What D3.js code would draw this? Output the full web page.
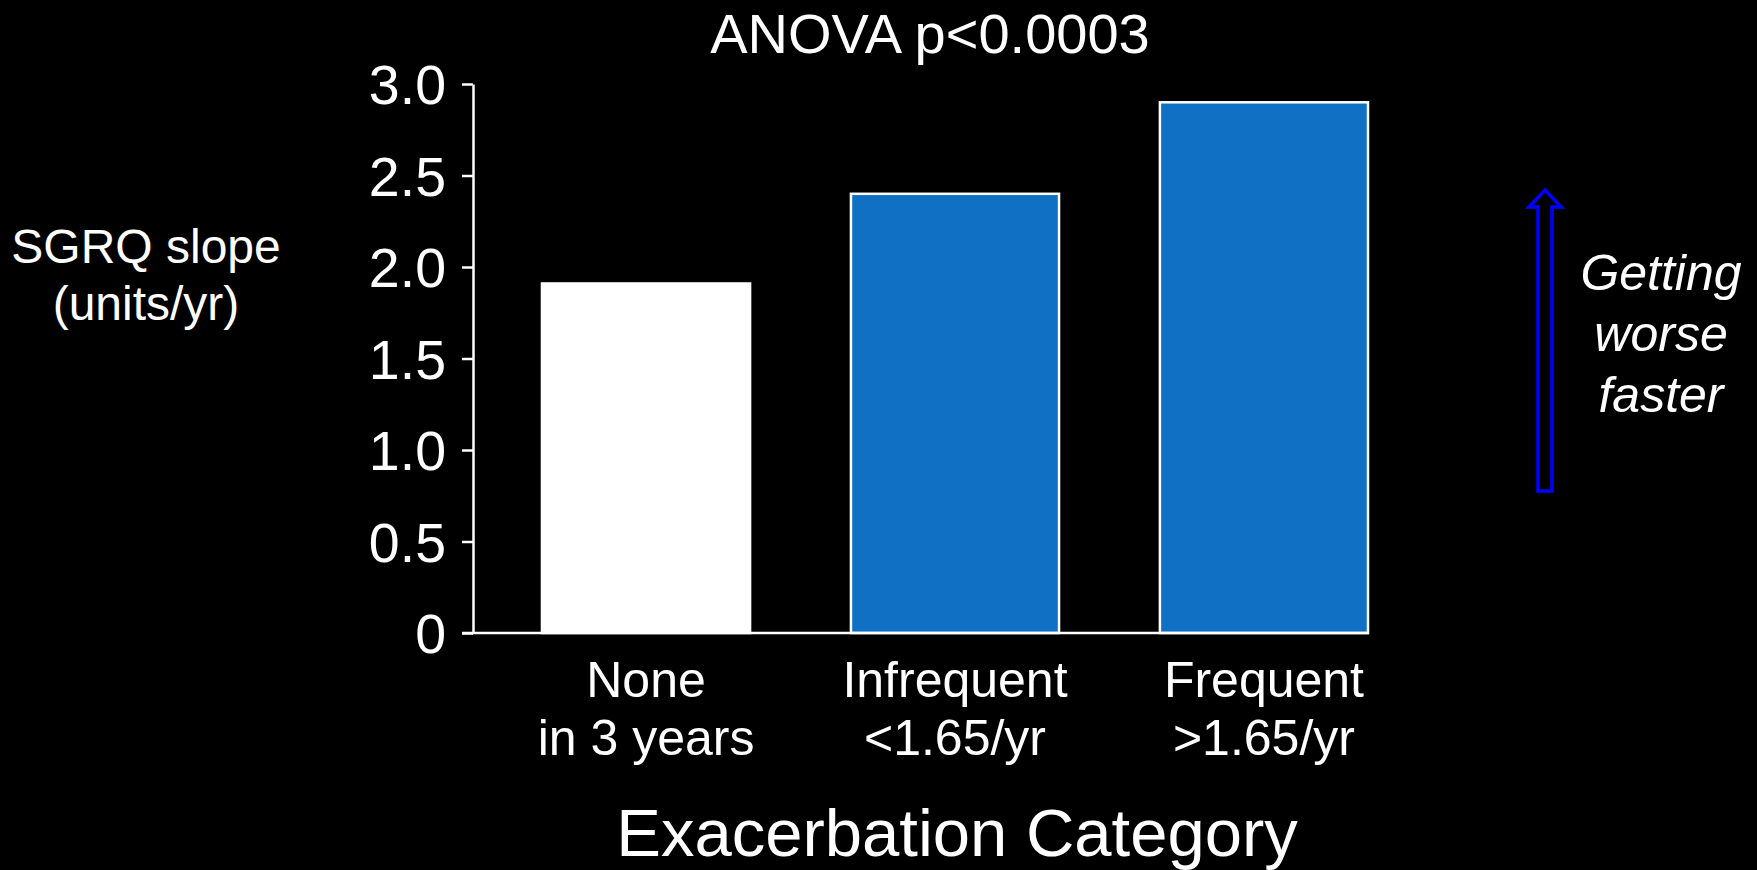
<!DOCTYPE html>
<html>
<head>
<meta charset="utf-8">
<script src="https://cdn.jsdelivr.net/npm/d3@7"></script>
<style>
    html, body { margin: 0; padding: 0; background: #000; }
    svg { display: block; }
    text { font-family: "Liberation Sans", Arial, Helvetica, sans-serif; fill: #fff; }
</style>
</head>
<body>
<div id="chart"></div>
<script>
// data
const categories = ['None', 'Infrequent', 'Frequent'];
const categoryLines = [['None', 'in 3 years'], ['Infrequent', '<1.65/yr'], ['Frequent', '>1.65/yr']];
const slopes = [1.91, 2.4, 2.9];
const barColors = ['#ffffff', '#1070c4', '#1070c4'];
const yTicks = [0, 0.5, 1.0, 1.5, 2.0, 2.5, 3.0];
const yTickLabels = ['0', '0.5', '1.0', '1.5', '2.0', '2.5', '3.0'];

let width = 1757;
let height = 870;

let svg = d3.select('#chart').append('svg')
    .attr('width', width)
    .attr('height', height);

svg.append('rect').attr('width', width).attr('height', height).attr('fill', '#000');

// escalas
const y = d3.scaleLinear().domain([0, 3]).range([633, 84]);
const x = d3.scaleBand()
    .domain(categories)
    .range([473, 1369])
    .paddingInner(0.32)
    .paddingOuter(0.11)
    .align(1);

// barras
svg.append('g')
    .selectAll('rect')
    .data(categories)
    .enter()
    .append('rect')
    .attr('x', d => x(d) + 1)
    .attr('y', (d, i) => y(slopes[i]))
    .attr('width', x.bandwidth() - 2)
    .attr('height', (d, i) => y(0) - y(slopes[i]))
    .attr('fill', (d, i) => barColors[i])
    .style('stroke', '#fff')
    .style('stroke-width', '2.5px');

// eje y
let yAxis = svg.append('g')
    .attr('transform', 'translate(473,0)')
    .call(d3.axisLeft(y)
        .tickValues(yTicks)
        .tickFormat((d, i) => yTickLabels[i])
        .tickSize(11)
        .tickPadding(16)
        .tickSizeOuter(0));
yAxis.select('.domain').attr('stroke', '#fff').attr('stroke-width', 2.5);
yAxis.selectAll('.tick line').attr('stroke', '#fff').attr('stroke-width', 2.5);
yAxis.selectAll('.tick text')
    .attr('fill', '#fff')
    .style('font-size', '55.5px')
    .attr('dy', '0.36em');

// eje x (línea base)
svg.append('line')
    .attr('x1', 462)
    .attr('x2', x.range()[1])
    .attr('y1', y(0))
    .attr('y2', y(0))
    .attr('stroke', '#fff')
    .attr('stroke-width', 2.5);

// etiquetas de categoría
let catLabels = svg.append('g')
    .selectAll('text')
    .data(categories)
    .enter()
    .append('text')
    .attr('text-anchor', 'middle')
    .style('font-size', '50px');

catLabels.selectAll('tspan')
    .data((d, i) => categoryLines[i].map(l => ({ line: l, cat: d })))
    .enter()
    .append('tspan')
    .attr('x', d => x(d.cat) + x.bandwidth() / 2)
    .attr('y', (d, j) => 697 + j * 58)
    .text(d => d.line);

// título
svg.append('text')
    .attr('x', 930)
    .attr('y', 53)
    .attr('text-anchor', 'middle')
    .style('font-size', '56px')
    .text('ANOVA p<0.0003');

// título eje y
let yTitle = svg.append('text')
    .attr('text-anchor', 'middle')
    .style('font-size', '48px');
['SGRQ slope', '(units/yr)'].forEach((l, i) => {
    yTitle.append('tspan').attr('x', 146).attr('y', 263 + i * 57).text(l);
});

// título eje x
svg.append('text')
    .attr('x', 957)
    .attr('y', 856)
    .attr('text-anchor', 'middle')
    .style('font-size', '67px')
    .text('Exacerbation Category');

// flecha
let arrow = d3.path();
arrow.moveTo(1538, 491);
arrow.lineTo(1538, 207);
arrow.lineTo(1529, 207);
arrow.lineTo(1545, 190);
arrow.lineTo(1561, 207);
arrow.lineTo(1552, 207);
arrow.lineTo(1552, 491);
arrow.closePath();
svg.append('path')
    .attr('d', arrow.toString())
    .attr('fill', 'none')
    .attr('stroke', '#0000ff')
    .attr('stroke-width', 3.5);

let note = svg.append('text')
    .attr('text-anchor', 'middle')
    .style('font-size', '50px')
    .style('font-style', 'italic');
['Getting', 'worse', 'faster'].forEach((l, i) => {
    note.append('tspan').attr('x', 1661).attr('y', 290 + i * 61).text(l);
});
</script>
</body>
</html>
